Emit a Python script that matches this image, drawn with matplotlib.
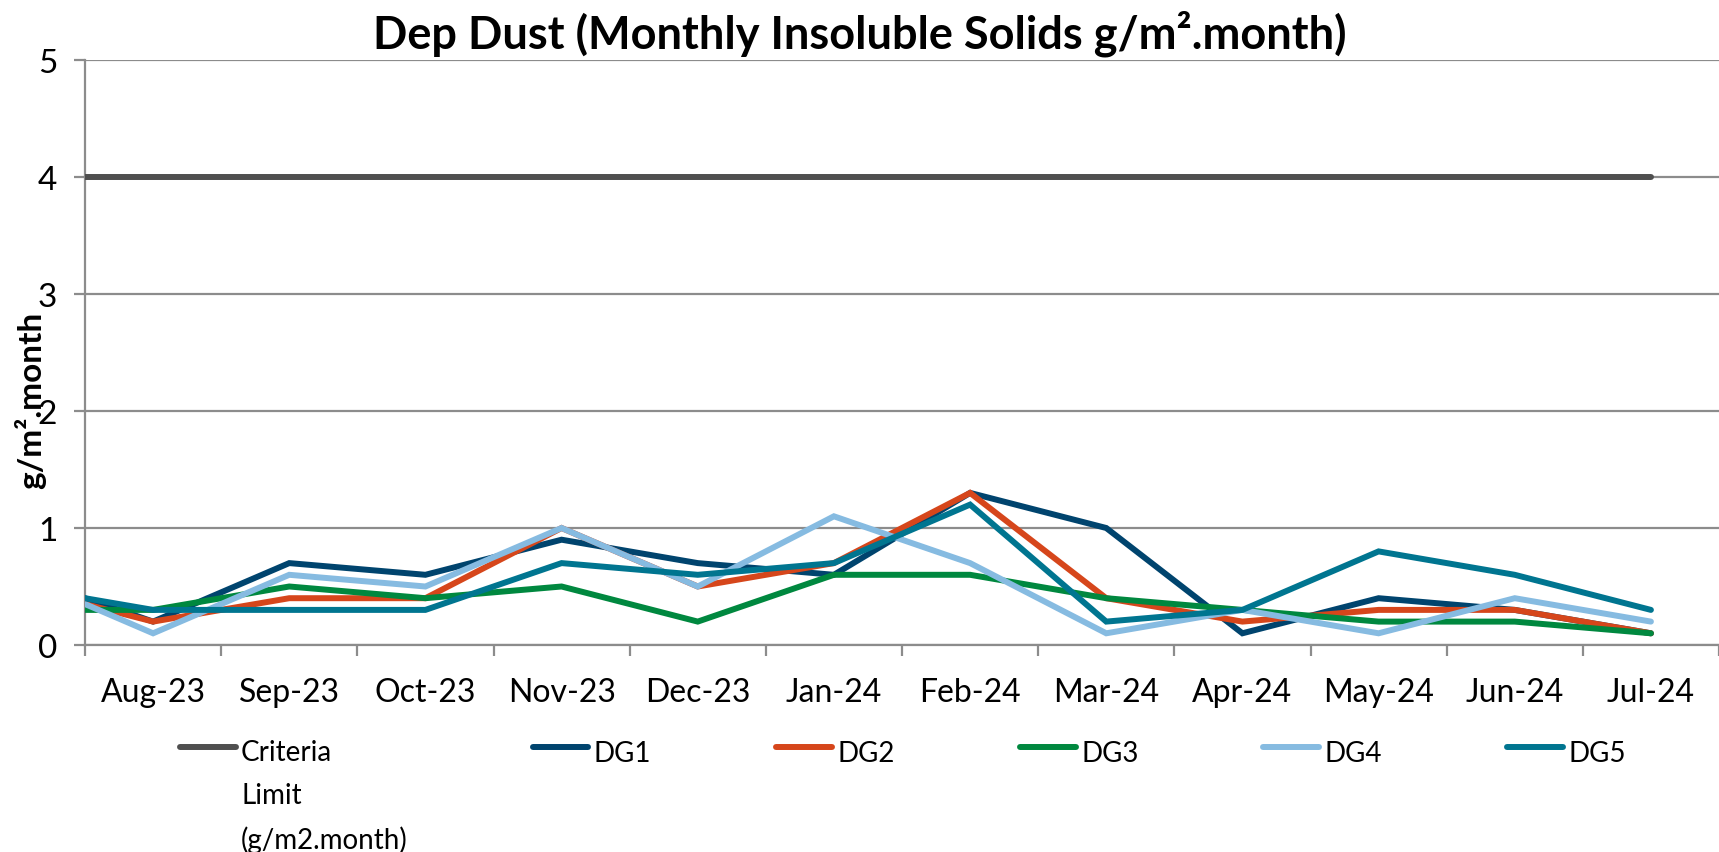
import numpy as np
import matplotlib
matplotlib.use("Agg")
from matplotlib import pyplot as plt
from matplotlib.legend_handler import HandlerLine2D

plt.rcParams['font.family'] = ['Lato', 'DejaVu Sans']

months = ['Aug-23', 'Sep-23', 'Oct-23', 'Nov-23', 'Dec-23', 'Jan-24',
          'Feb-24', 'Mar-24', 'Apr-24', 'May-24', 'Jun-24', 'Jul-24']

criteria = [4, 4, 4, 4, 4, 4, 4, 4, 4, 4, 4, 4]
# value carried in at the left edge of the axis (previous reading)
lead = {'DG1': 0.4, 'DG2': 0.35, 'DG3': 0.3, 'DG4': 0.35, 'DG5': 0.4}
dg1 = [0.2, 0.7, 0.6, 0.9, 0.7, 0.6, 1.3, 1.0, 0.1, 0.4, 0.3, 0.1]
dg2 = [0.2, 0.4, 0.4, 1.0, 0.5, 0.7, 1.3, 0.4, 0.2, 0.3, 0.3, 0.1]
dg3 = [0.3, 0.5, 0.4, 0.5, 0.2, 0.6, 0.6, 0.4, 0.3, 0.2, 0.2, 0.1]
dg4 = [0.1, 0.6, 0.5, 1.0, 0.5, 1.1, 0.7, 0.1, 0.3, 0.1, 0.4, 0.2]
dg5 = [0.3, 0.3, 0.3, 0.7, 0.6, 0.7, 1.2, 0.2, 0.3, 0.8, 0.6, 0.3]

series = [('DG1', dg1, '#00446E'),
          ('DG2', dg2, '#D6461B'),
          ('DG3', dg3, '#00883F'),
          ('DG4', dg4, '#86BBE1'),
          ('DG5', dg5, '#007590')]


class TopLineHandler(HandlerLine2D):
    # legend line sits beside the first line of a 3-line label
    def __init__(self, shift, **kw):
        super().__init__(**kw)
        self.shift = shift

    def create_artists(self, legend, orig_handle, xdescent, ydescent,
                       width, height, fontsize, trans):
        arts = super().create_artists(legend, orig_handle, xdescent, ydescent,
                                      width, height, fontsize, trans)
        for a in arts:
            a.set_ydata(np.asarray(a.get_ydata()) + self.shift)
        return arts


fig = plt.figure(figsize=(17.19, 8.53), dpi=100)
ax = fig.add_axes([85 / 1719, 1 - 646 / 853, 1 - 85 / 1719, (646 - 61) / 853])

x = np.arange(len(months))
lw = 4.3
ax.plot(np.r_[-0.5, x], [criteria[0]] + criteria, color='#4F4F4F', lw=lw,
        solid_capstyle='round', label='Criteria\nLimit\n(g/m2.month)', zorder=3)
for name, vals, col in series:
    ax.plot(np.r_[-0.5, x], [lead[name]] + vals, color=col, lw=lw,
            solid_capstyle='round', solid_joinstyle='miter',
            label=name + '\n\n', zorder=3)

ax.set_xlim(-0.5, 11.5)
ax.set_ylim(0, 5)
ax.set_yticks(range(6))
ax.set_yticklabels([str(i) for i in range(6)], fontsize=24)
ax.yaxis.grid(True, color='#8C8C8C', lw=1.6)
ax.set_axisbelow(True)

# category boundaries as major ticks, labels on minor ticks
ax.set_xticks(np.arange(-0.5, 12, 1))
ax.set_xticklabels([])
ax.set_xticks(x, minor=True)
ax.set_xticklabels(months, minor=True, fontsize=23)
ax.tick_params(axis='x', which='major', length=8, width=1.6, color='#8C8C8C')
ax.tick_params(axis='x', which='minor', length=0, pad=23)
ax.tick_params(axis='y', length=8, width=1.6, color='#8C8C8C', pad=12)

for s in ['top', 'right']:
    ax.spines[s].set_visible(False)
for s in ['left', 'bottom']:
    ax.spines[s].set_color('#8C8C8C')
    ax.spines[s].set_linewidth(1.6)

fig.text(0.5, 1 - 34 / 853, 'Dep Dust (Monthly Insoluble Solids g/m².month)',
         ha='center', va='center', fontsize=32.5, fontweight='bold')
fig.text(30 / 1719, 1 - 400 / 853, 'g/m².month', rotation=90, ha='center',
         va='center', fontsize=24, fontweight='bold')

fs = 20
line_sp = 1.8
handles, labels = ax.get_legend_handles_labels()
leg = fig.legend(handles, labels, loc='upper left',
                 bbox_to_anchor=(180 / 1719, 1 - 740 / 853),
                 ncol=6, frameon=False, fontsize=fs, handlelength=2.0,
                 handletextpad=0.2, columnspacing=4.5, borderaxespad=0,
                 borderpad=0,
                 handler_map={h: TopLineHandler(shift=line_sp * fs * 1.0)
                              for h in handles})
for t in leg.get_texts():
    t.set_linespacing(line_sp)

fig.savefig('out.png', dpi=100)
